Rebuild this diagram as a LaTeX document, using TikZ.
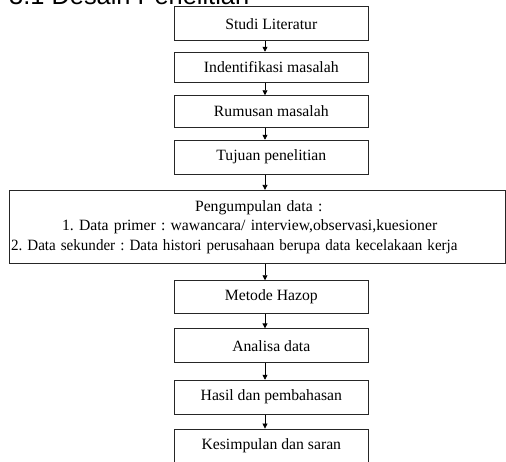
\documentclass[tikz,border=0pt]{standalone}
\usepackage{fontspec}
\setmainfont{Liberation Serif}
\newfontfamily\judulfont{Liberation Sans}
\usetikzlibrary{arrows.meta,positioning}
\frenchspacing
\tikzset{
  >=Triangle,
  blok/.style={rectangle, draw=black!85, line width=0.9pt, minimum width=194pt, minimum height=34pt, inner sep=0pt, font=\fontsize{15.7}{18.5}\selectfont},
  panah/.style={-{Triangle[length=5pt,width=5pt]}, line width=0.8pt},
  judul/.style={anchor=base west, inner sep=0pt, font=\judulfont\fontsize{25.4}{30}\selectfont}
}

\begin{document}
\begin{tikzpicture}[x=1pt,y=1pt]
\useasboundingbox (0,0) rectangle (506,-461);

\node (head) [judul] at (9,-4) {3.1 Desain Penelitian};

\node (studi) [blok] at (271.3,-23.7) {Studi Literatur};
\node (identifikasi) [blok, minimum height=30pt] at (271.3,-67.2) {Indentifikasi masalah};
\node (rumusan) [blok, minimum height=31.6pt] at (271.3,-111.5) {Rumusan masalah};
\node (tujuan) [blok] at (271.3,-157.2) {Tujuan penelitian};
\node (data) [blok, text width=495.7pt, minimum height=73.4pt, align=left, font=\fontsize{15.7}{19.5}\selectfont] at (257.2,-227)
  {\hspace*{185.7pt}Pengumpulan data :\\
   \hspace*{52.7pt}1. Data primer : wawancara/ interview,observasi,kuesioner\\
   \hspace*{1.7pt}\scalebox{0.96}[1]{2. Data sekunder : Data histori perusahaan berupa data kecelakaan kerja}};
\node (hazop) [blok, minimum height=32.6pt] at (271.3,-297) {Metode Hazop};
\node (analisa) [blok] at (271.3,-345.8) {Analisa data};
\node (hasil) [blok] at (271.3,-397.2) {Hasil dan pembahasan};
\node (simpulan) [blok] at (271.3,-446) {Kesimpulan dan saran};

\coordinate (jalur) at (265,0);

\draw[panah] (studi.south -| jalur) -- (identifikasi.north -| jalur);
\draw[panah] (identifikasi.south -| jalur) -- (rumusan.north -| jalur);
\draw[panah] (rumusan.south -| jalur) -- (tujuan.north -| jalur);
\draw[panah] (tujuan.south -| jalur) -- (data.north -| jalur);
\draw[panah] (data.south -| jalur) -- (hazop.north -| jalur);
\draw[panah] (hazop.south -| jalur) -- (analisa.north -| jalur);
\draw[panah] (analisa.south -| jalur) -- (hasil.north -| jalur);
\draw[panah] (hasil.south -| jalur) -- (simpulan.north -| jalur);

\end{tikzpicture}
\end{document}
